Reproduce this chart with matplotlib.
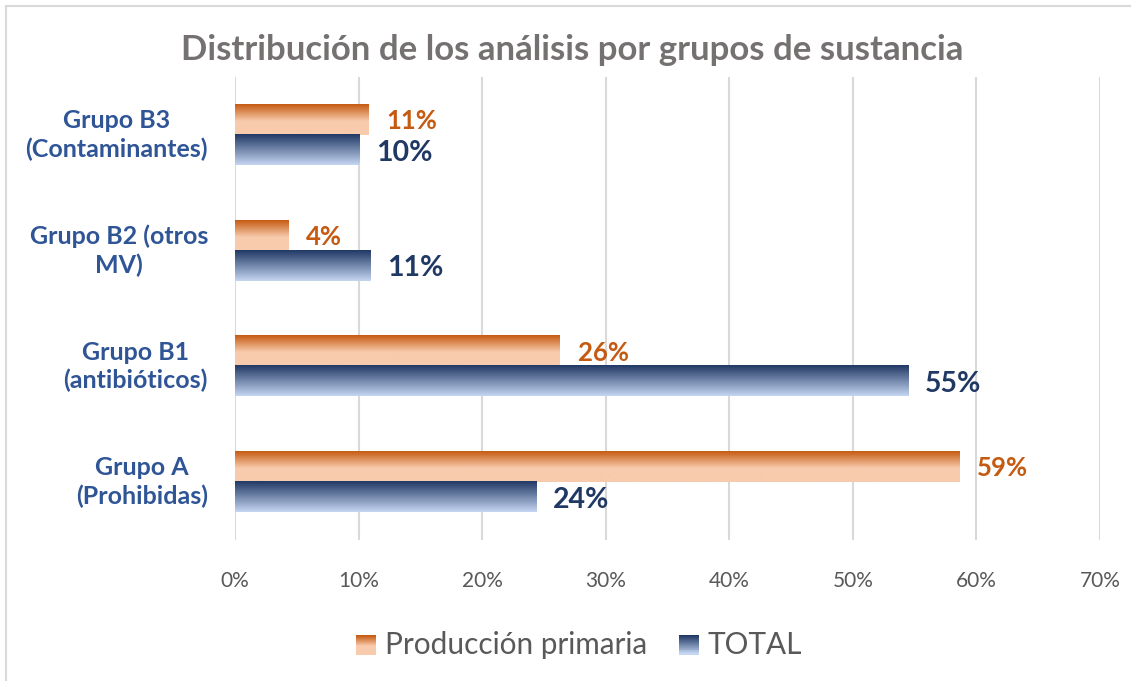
import numpy as np
import matplotlib
matplotlib.use("Agg")
import matplotlib.pyplot as plt
from matplotlib.colors import LinearSegmentedColormap
from matplotlib.patches import Rectangle
from matplotlib.lines import Line2D
from matplotlib.legend_handler import HandlerBase

# ---- data ----
categories = ["Grupo A\n(Prohibidas)", "Grupo B1\n(antibióticos)",
              "Grupo B2 (otros\nMV)", "Grupo B3\n(Contaminantes)"]
produccion_primaria = [0.586, 0.263, 0.043, 0.108]
total = [0.244, 0.545, 0.110, 0.101]
series_names = ["Producción primaria", "TOTAL"]
xticks = [0, 0.1, 0.2, 0.3, 0.4, 0.5, 0.6, 0.7]
title = "Distribución de los análisis por grupos de sustancia"

plt.rcParams['font.family'] = ['Lato', 'DejaVu Sans']

orange_cmap = LinearSegmentedColormap.from_list(
    "og", [(0, "#C55A11"), (0.55, "#F8CBAD"), (1, "#F8CBAD")])
blue_cmap = LinearSegmentedColormap.from_list(
    "bl", [(0, "#203864"), (1, "#C5D6F2")])

W, H = 1131, 681
fig = plt.figure(figsize=(W / 100, H / 100), dpi=100)
ax = fig.add_axes([235 / W, 1 - 540 / H, (1100 - 235) / W, (540 - 77) / H])

y = np.arange(len(categories))
bh = 0.26

bars_o = ax.barh(y + bh / 2, produccion_primaria, height=bh, color="none", zorder=3)
bars_b = ax.barh(y - bh / 2, total, height=bh, color="none", zorder=3)

grad = np.linspace(0, 1, 256).reshape(-1, 1)


def fill_gradient(bars, cmap):
    for p in bars:
        x0, y0 = p.get_x(), p.get_y()
        w, h = p.get_width(), p.get_height()
        ax.imshow(grad, cmap=cmap, aspect="auto", origin="upper",
                  extent=(x0, x0 + w, y0, y0 + h), zorder=3,
                  interpolation="bilinear")


fill_gradient(bars_o, orange_cmap)
fill_gradient(bars_b, blue_cmap)
ax.set_xlim(0, 0.7)
ax.set_ylim(-0.5, len(categories) - 0.5)

# data labels
for yi, v in zip(y, produccion_primaria):
    ax.annotate(f"{v*100:.0f}%", (v, yi + bh / 2), xytext=(13, -1),
                textcoords="offset points", va="center", ha="left",
                fontsize=18.5, fontweight="bold", color="#C55A11", zorder=4)
for yi, v in zip(y, total):
    ax.annotate(f"{v*100:.0f}%", (v, yi - bh / 2), xytext=(12, -2),
                textcoords="offset points", va="center", ha="left",
                fontsize=20.5, fontweight="bold", color="#203864", zorder=4)

# axes styling
ax.set_xticks(xticks)
ax.set_xticklabels([f"{t*100:.0f}%" for t in xticks], fontsize=15, color="#595959")
ax.set_yticks(y)
ax.set_yticklabels(categories, fontsize=18, fontweight="bold", color="#2F5597",
                   linespacing=1.25)
ax.tick_params(axis="both", length=0)
ax.tick_params(axis="x", pad=22)
ax.tick_params(axis="y", pad=19.5)
for lbl in ax.get_yticklabels():
    lbl.set_horizontalalignment("right")
    lbl.set_verticalalignment("center")
    lbl.set_multialignment("center")
for s in ax.spines.values():
    s.set_visible(False)
ax.grid(axis="x", color="#D9D9D9", linewidth=1.5, zorder=0)
ax.set_axisbelow(True)

fig.text(0.506, 1 - 50 / H, title, ha="center", va="center",
         fontsize=25, fontweight="bold", color="#767171")


class GradHandler(HandlerBase):
    def __init__(self, cmap):
        super().__init__()
        self.cmap = cmap

    def create_artists(self, legend, orig_handle, xdescent, ydescent,
                       width, height, fontsize, trans):
        n = 20
        artists = []
        side = height * 0.95
        x0 = -xdescent + (width - side)
        y0 = -ydescent - (side - height) / 2 - height * 0.05
        for i in range(n):
            c = self.cmap(i / (n - 1))
            r = Rectangle((x0, y0 + side * (n - 1 - i) / n), side, side / n + 0.05,
                          facecolor=c, edgecolor="none", transform=trans)
            artists.append(r)
        return artists


h1 = Rectangle((0, 0), 1, 1)
h2 = Rectangle((0, 0), 1, 1)
leg = fig.legend([h1, h2], series_names, loc="center",
                 bbox_to_anchor=(0.5124, 1 - 645 / H), ncol=2, frameon=False,
                 fontsize=21.4, labelcolor="#595959", handlelength=0.65,
                 handletextpad=0.3, columnspacing=1.1,
                 handler_map={h1: GradHandler(orange_cmap), h2: GradHandler(blue_cmap)})

# outer border (top and left visible)
fig.add_artist(Line2D([6 / W, 1], [1 - 6 / H, 1 - 6 / H], color="#D9D9D9", lw=1.5))
fig.add_artist(Line2D([6 / W, 6 / W], [0, 1 - 6 / H], color="#D9D9D9", lw=1.5))

fig.savefig("out.png", dpi=100, facecolor="white")
